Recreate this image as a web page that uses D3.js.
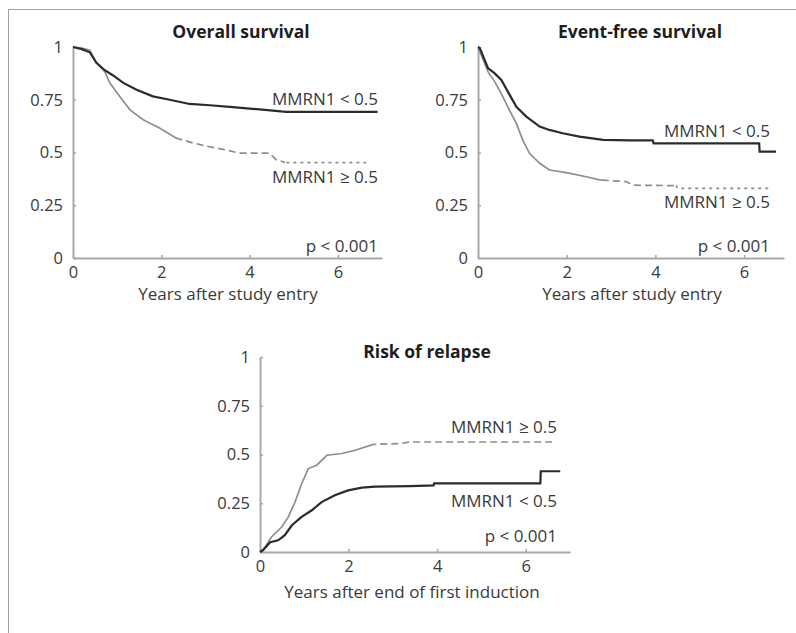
<!DOCTYPE html>
<html>
<head>
<meta charset="utf-8">
<script src="https://cdn.jsdelivr.net/npm/d3@7"></script>
<style>
  body { margin: 0; background: #fff; }
  svg text { font-family: "Open Sans", sans-serif; }
</style>
</head>
<body>
<div id="chart"></div>
<script>
const W = 796, H = 633;

// values (years, probability)
const osLowT = [0, 0.2, 0.38, 0.53, 0.72, 0.91, 1.14, 1.44, 1.81, 2.19, 2.64, 3.1, 3.55, 4.07, 4.83, 6.9];
const osLowS = [1, 0.99, 0.975, 0.925, 0.89, 0.865, 0.83, 0.797, 0.766, 0.75, 0.73, 0.724, 0.716, 0.707, 0.693, 0.693];
const osHighT = [0, 0.2, 0.38, 0.53, 0.72, 0.84, 1.06, 1.29, 1.59, 1.97, 2.34, 2.72, 3.1, 3.4, 3.77, 4.45, 4.6, 4.83, 6.64];
const osHighS = [1, 0.995, 0.985, 0.925, 0.883, 0.828, 0.765, 0.702, 0.655, 0.615, 0.568, 0.545, 0.527, 0.515, 0.497, 0.497, 0.466, 0.452, 0.452];

const efsLowT = [0, 0.04, 0.225, 0.376, 0.527, 0.714, 0.865, 1.09, 1.39, 1.61, 1.91, 2.29, 2.82, 3.42, 3.94, 3.96, 6.34, 6.35, 6.72];
const efsLowS = [1, 0.995, 0.9, 0.875, 0.844, 0.773, 0.717, 0.67, 0.623, 0.607, 0.591, 0.575, 0.56, 0.557, 0.557, 0.543, 0.543, 0.504, 0.504];
const efsHighT = [0, 0.225, 0.376, 0.56, 0.71, 0.865, 1.01, 1.16, 1.39, 1.61, 1.99, 2.44, 2.74, 3.34, 3.49, 4.47, 4.5, 6.61];
const efsHighS = [1, 0.883, 0.836, 0.765, 0.7, 0.638, 0.559, 0.496, 0.449, 0.417, 0.405, 0.385, 0.37, 0.362, 0.345, 0.343, 0.33, 0.33];

const rorLowT = [0, 0.07, 0.23, 0.41, 0.56, 0.72, 0.94, 1.17, 1.39, 1.69, 1.99, 2.3, 2.6, 3.39, 3.92, 3.93, 6.33, 6.34, 6.78];
const rorLowS = [0, 0.01, 0.05, 0.06, 0.086, 0.137, 0.18, 0.214, 0.256, 0.291, 0.316, 0.33, 0.335, 0.338, 0.342, 0.352, 0.352, 0.414, 0.414];
const rorHighT = [0, 0.07, 0.26, 0.49, 0.64, 0.79, 0.94, 1.09, 1.28, 1.51, 1.85, 2.15, 2.56, 3.16, 3.39, 6.67];
const rorHighS = [0, 0.01, 0.077, 0.128, 0.18, 0.256, 0.35, 0.428, 0.445, 0.496, 0.505, 0.522, 0.552, 0.556, 0.564, 0.564];

const yTicks = [0, 0.25, 0.5, 0.75, 1];
const yTickLabels = ["0", "0.25", "0.5", "0.75", "1"];
const xTicks = [0, 2, 4, 6];
const xTickLabels = ["0", "2", "4", "6"];
const lowLabel = "MMRN1 < 0.5";
const highLabel = "MMRN1 \u2265 0.5";
const pLabel = "p < 0.001";

const panels = [
  { title: "Overall survival", xlab: "Years after study entry",
    x0: 73, x1: 382, xmax: 7, y0: 258, y1: 47,
    low: [osLowT, osLowS], high: [osHighT, osHighS], dashFrom: 2.4, dotFrom: 4.8,
    titleXY: [241, 38], xlabXY: [228, 300],
    lowXY: [378, 105], highXY: [378, 183], pXY: [378, 252] },
  { title: "Event-free survival", xlab: "Years after study entry",
    x0: 478, x1: 784, xmax: 6.9, y0: 258, y1: 47,
    low: [efsLowT, efsLowS], high: [efsHighT, efsHighS], dashFrom: 2.9, dotFrom: 4.45,
    titleXY: [640, 38], xlabXY: [632, 300],
    lowXY: [770, 137], highXY: [770, 208], pXY: [770, 252] },
  { title: "Risk of relapse", xlab: "Years after end of first induction",
    x0: 260, x1: 570, xmax: 7, y0: 552, y1: 357,
    low: [rorLowT, rorLowS], high: [rorHighT, rorHighS], dashFrom: 2.6, dotFrom: 99,
    titleXY: [427, 358], xlabXY: [412, 598],
    lowXY: [557, 507], highXY: [557, 433], pXY: [557, 542] }
];

const svg = d3.select("#chart").append("svg")
    .attr("width", W)
    .attr("height", H);

// frame lines
svg.append("line").attr("x1", 8).attr("x2", W).attr("y1", 9.5).attr("y2", 9.5)
    .attr("stroke", "#a0a0a0").attr("stroke-width", 1);
svg.append("line").attr("x1", 8.5).attr("x2", 8.5).attr("y1", 9).attr("y2", H)
    .attr("stroke", "#a0a0a0").attr("stroke-width", 1);

panels.forEach(function(p, pi) {
    const x = d3.scaleLinear().domain([0, p.xmax]).range([p.x0, p.x1]);
    const y = d3.scaleLinear().domain([0, 1]).range([p.y0, p.y1]);
    const g = svg.append("g");

    const yAxis = d3.axisLeft(y).tickValues(yTicks)
        .tickFormat(function(d, i) { return yTickLabels[i]; })
        .tickSizeInner(-3).tickSizeOuter(0).tickPadding(10);
    const xAxis = d3.axisBottom(x).tickValues(xTicks)
        .tickFormat(function(d, i) { return xTickLabels[i]; })
        .tickSizeInner(-3).tickSizeOuter(0).tickPadding(8);

    const ya = g.append("g").attr("transform", "translate(" + p.x0 + ",0)").call(yAxis);
    const xa = g.append("g").attr("transform", "translate(0," + p.y0 + ")").call(xAxis);
    [ya, xa].forEach(function(a) {
        a.select(".domain").attr("stroke", "#a8a8a8").attr("stroke-width", 2);
        a.selectAll(".tick line").attr("stroke", "#a8a8a8").attr("stroke-width", 1.5);
        a.selectAll(".tick text").attr("fill", "#3a3a3a")
            .style("font-size", "16.5px").style("font-family", "'Open Sans', sans-serif");
    });

    const line = d3.line()
        .x(function(d) { return x(d[0]); })
        .y(function(d) { return y(d[1]); });

    function pts(arr) { return arr[0].map(function(t, i) { return [t, arr[1][i]]; }); }

    // clip regions for solid / dashed / dotted parts of the high-MMRN1 curve
    const parts = [
        { id: "s", from: 0, to: p.dashFrom, dash: null },
        { id: "d", from: p.dashFrom, to: p.dotFrom, dash: "7,4" },
        { id: "o", from: p.dotFrom, to: 99, dash: "3,4" }
    ];
    parts.forEach(function(part) {
        const a = x(Math.min(part.from, p.xmax)), b = x(Math.min(part.to, p.xmax + 1));
        if (b <= a) return;
        svg.append("clipPath").attr("id", "clip" + pi + part.id)
            .append("rect").attr("x", a).attr("y", 0).attr("width", b - a).attr("height", H);
        g.append("path")
            .attr("d", line(pts(p.high)))
            .attr("clip-path", "url(#clip" + pi + part.id + ")")
            .attr("fill", "none")
            .attr("stroke", "#8e8e8e")
            .attr("stroke-width", 1.7)
            .attr("stroke-dasharray", part.dash);
    });

    g.append("path")
        .attr("d", line(pts(p.low)))
        .attr("fill", "none")
        .attr("stroke", "#2b2b2b")
        .attr("stroke-width", 2.2);

    g.append("text").attr("x", p.titleXY[0]).attr("y", p.titleXY[1])
        .attr("text-anchor", "middle").attr("fill", "#1e1e1e")
        .style("font-size", "17.5px").style("font-weight", "bold").text(p.title);
    g.append("text").attr("x", p.xlabXY[0]).attr("y", p.xlabXY[1])
        .attr("text-anchor", "middle").attr("fill", "#3a3a3a")
        .style("font-size", "17px").text(p.xlab);
    [[p.lowXY, lowLabel], [p.highXY, highLabel], [p.pXY, pLabel]].forEach(function(l) {
        g.append("text").attr("x", l[0][0]).attr("y", l[0][1])
            .attr("text-anchor", "end").attr("fill", "#3a3a3a")
            .style("font-size", "17px").text(l[1]);
    });
});
</script>
</body>
</html>
